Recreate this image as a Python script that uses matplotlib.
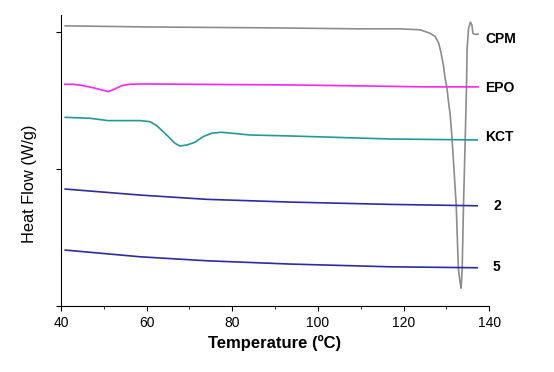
import numpy as np
import matplotlib.pyplot as plt
from matplotlib.ticker import MultipleLocator

plt.rcParams['font.family'] = ['Liberation Sans', 'DejaVu Sans']

# CPM (grey) - sharp melting endotherm near 133 C
cpm_t = [41, 60, 90, 110, 119.2, 123.9, 126.2, 127.4, 128.2, 128.7, 129.3, 129.7, 130.1, 130.5,
         130.9, 131.35, 132.3, 132.8, 133.2, 133.45, 133.7, 134.0, 134.4, 134.7, 134.85, 135.2,
         135.6, 135.96, 136.2, 136.6, 137.4]
cpm_v = [2.044, 2.036, 2.029, 2.022, 2.022, 2.015, 1.99, 1.966, 1.918, 1.856, 1.759, 1.662, 1.601, 1.491,
         1.394, 1.212, 0.737, 0.277, 0.175, 0.131, 0.277, 0.737, 1.212, 1.599, 1.883, 2.027,
         2.071, 2.051, 1.99, 1.982, 1.983]

# EPO (magenta)
epo_t = [40.9, 42.9, 45.2, 47.5, 49.5, 51.05, 52.6, 54.2, 56.1, 58.5, 60.4, 93.5, 110, 125, 137.4]
epo_v = [1.618, 1.618, 1.608, 1.593, 1.577, 1.564, 1.584, 1.608, 1.618, 1.620, 1.620,
         1.613, 1.606, 1.599, 1.599]

# KCT (teal)
kct_t = [41, 46.8, 51, 53.8, 58.5, 60.8, 62.4, 64.7, 66.6, 67.8, 69.4, 71.3, 73.2, 75.2,
         77.5, 79.9, 82.6, 84.2, 93.5, 116.9, 137.2]
kct_v = [1.377, 1.370, 1.353, 1.353, 1.353, 1.345, 1.316, 1.248, 1.188, 1.168, 1.175, 1.195,
         1.236, 1.261, 1.268, 1.261, 1.253, 1.248, 1.241, 1.219, 1.212]

# formulations 2 and 5 (navy)
f2_t = [41, 58.5, 74, 93.5, 116.9, 137.2]
f2_v = [0.854, 0.81, 0.779, 0.759, 0.742, 0.732]
f5_t = [41, 58.5, 74, 93.5, 116.9, 137.2]
f5_v = [0.409, 0.36, 0.331, 0.307, 0.287, 0.28]

names = ['CPM', 'EPO', 'KCT', '2', '5']
label_y = [1.949, 1.589, 1.236, 0.732, 0.282]

fig = plt.figure(figsize=(5.54, 3.72), dpi=100)
ax = fig.add_axes([0.110, 0.177, 0.773, 0.783])

ax.plot(cpm_t, cpm_v, color='#8c8c8c', lw=1.2)
ax.plot(epo_t, epo_v, color='#ff22ff', lw=1.2)
ax.plot(kct_t, kct_v, color='#1f9a9a', lw=1.2)
ax.plot(f2_t, f2_v, color='#2b2ba6', lw=1.2)
ax.plot(f5_t, f5_v, color='#2b2ba6', lw=1.2)

for name, yy in zip(names, label_y):
    xx = 139.1 if len(name) > 1 else 140.9
    ax.text(xx, yy, name, fontsize=10, fontweight='bold', va='center', ha='left', clip_on=False)

ax.set_xlim(40, 140)
ax.set_ylim(0, 2.124)
ax.xaxis.set_major_locator(MultipleLocator(20))
ax.xaxis.set_minor_locator(MultipleLocator(10))
ax.set_yticks([0, 1, 2])
ax.set_yticklabels([])
ax.tick_params(direction='out', labelsize=10)
ax.tick_params(which='minor', direction='out', length=2.5)
ax.spines['top'].set_visible(False)
ax.spines['right'].set_visible(False)

ax.set_xlabel('Temperature (ºC)', fontsize=12, fontweight='bold')
ax.set_ylabel('Heat Flow (W/g)', fontsize=11.8)
ax.yaxis.set_label_coords(-0.056, 0.42)

fig.savefig('out.png', dpi=100)
